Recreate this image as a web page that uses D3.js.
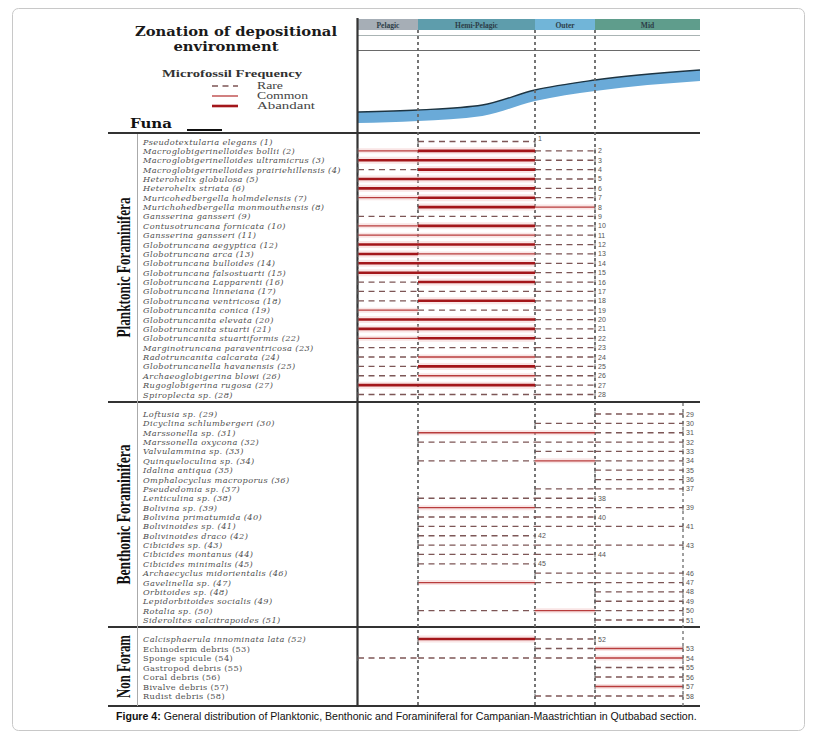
<!DOCTYPE html>
<html><head><meta charset="utf-8">
<script src="https://cdn.jsdelivr.net/npm/d3@7"></script>
<style>body{margin:0;background:#fff}svg{display:block}</style>
</head><body>
<svg id="c" width="815" height="741"></svg>
<script>
// ---------- DATA ----------
const zones = ["Pelagic", "Hemi-Pelagic", "Outer", "Mid"];
const frequencyLegend = ["Rare", "Common", "Abandant"]; // 1,2,3
const groups = ["Planktonic Foraminifera", "Benthonic Foraminifera", "Non Foram"];

const planktonicNames = [
  "Pseudotextularia elegans (1)", "Macroglobigerinelloides bollii (2)", "Macroglobigerinelloides ultramicrus (3)",
  "Macroglobigerinelloides prairiehillensis (4)", "Heterohelix globulosa (5)", "Heterohelix striata (6)",
  "Muricohedbergella holmdelensis (7)", "Murichohedbergella monmouthensis (8)", "Gansserina gansseri (9)",
  "Contusotruncana fornicata (10)", "Gansserina gansseri (11)", "Globotruncana aegyptica (12)",
  "Globotruncana arca (13)", "Globotruncana bulloides (14)", "Globotruncana falsostuarti (15)",
  "Globotruncana Lapparenti (16)", "Globotruncana linneiana (17)", "Globotruncana ventricosa (18)",
  "Globotruncanita conica (19)", "Globotruncanita elevata (20)", "Globotruncanita stuarti (21)",
  "Globotruncanita stuartiformis (22)", "Marginotruncana paraventricosa (23)", "Radotruncanita calcarata (24)",
  "Globotruncanella havanensis (25)", "Archaeoglobigerina blowi (26)", "Rugoglobigerina rugosa (27)",
  "Spiroplecta sp. (28)"
];
// frequency per zone [Pelagic, Hemi-Pelagic, Outer, Mid]: 0 none, 1 rare, 2 common, 3 abundant
const planktonicFreq = [
  [0,1,0,0],[2,3,1,0],[3,3,1,0],[1,3,1,0],[3,3,1,0],[3,3,1,0],[2,3,1,0],[0,3,2,0],[1,1,1,0],
  [2,3,1,0],[2,2,1,0],[3,3,1,0],[3,2,1,0],[3,3,1,0],[3,3,1,0],[1,3,1,0],[1,1,1,0],[1,3,1,0],
  [2,1,1,0],[3,3,1,0],[3,3,1,0],[2,3,1,0],[1,1,1,0],[1,2,1,0],[1,3,1,0],[1,2,1,0],[3,3,1,0],
  [1,1,1,0]
];

const benthonicNames = [
  "Loftusia sp. (29)", "Dicyclina schlumbergeri (30)", "Marssonella sp. (31)", "Marssonella oxycona (32)",
  "Valvulammina sp. (33)", "Quinqueloculina sp. (34)", "Idalina antiqua (35)", "Omphalocyclus macroporus (36)",
  "Pseudedomia sp. (37)", "Lenticulina sp. (38)", "Bolivina sp. (39)", "Bolivina primatumida (40)",
  "Bolivinoides sp. (41)", "Bolivinoides draco (42)", "Cibicides sp. (43)", "Cibicides montanus (44)",
  "Cibicides minimalis (45)", "Archaecyclus midorientalis (46)", "Gavelinella sp. (47)", "Orbitoides sp. (48)",
  "Lepidorbitoides socialis (49)", "Rotalia sp. (50)", "Siderolites calcitrapoides (51)"
];
const benthonicFreq = [
  [0,0,0,1],[0,0,1,1],[0,2,2,1],[0,1,1,1],[0,0,1,1],[0,1,2,1],[0,0,0,1],[0,0,0,1],
  [0,0,1,1],[0,1,1,0],[0,2,1,1],[0,1,1,0],[0,1,1,1],[0,1,0,0],[0,1,1,1],[0,1,1,0],
  [0,1,0,0],[0,0,1,1],[0,2,1,1],[0,0,0,1],[0,0,0,1],[0,1,2,1],[0,0,0,1]
];

const nonForamNames = [
  "Calcisphaerula innominata lata (52)", "Echinoderm debris (53)", "Sponge spicule (54)",
  "Gastropod debris (55)", "Coral debris (56)", "Bivalve debris (57)", "Rudist debris (58)"
];
const nonForamFreq = [
  [0,3,1,0],[0,0,1,2],[1,1,1,2],[0,0,0,1],[0,0,0,1],[0,0,0,2],[0,0,1,1]
];

// depositional depth curve (zone position, relative shallowing value)
const curveZonePos = [0, 1, 1.55, 2, 3, 4.2];
const curveValue   = [11, 13, 18, 33, 43, 53];

const captionBold = "Figure 4:";
const captionText = " General distribution of Planktonic, Benthonic and Foraminiferal for Campanian-Maastrichtian in Qutbabad section.";

// ---------- DRAW ----------
const svg = d3.select("#c");
const serif = "'Liberation Serif','Times New Roman',serif";
const dserif = "'DejaVu Serif',serif";

svg.append("rect").attr("x",12.5).attr("y",8.5).attr("width",792).attr("height",722)
  .attr("rx",6).attr("fill","none").attr("stroke","#c8c8c8");

const x = d3.scaleLinear().domain([0,1,2,3,4]).range([358,418,535,595,683]);
const RIGHT = 700;

// header zone boxes
const hdr = svg.append("g");
zones.forEach((z,i)=>{
  const colors = ["#a6aeb6","#5e9dac","#71b5d8","#5f9d8c"];
  const x1 = i===3 ? RIGHT : x(i+1);
  hdr.append("rect").attr("x",x(i)).attr("y",19).attr("width",x1-x(i)).attr("height",11).attr("fill",colors[i]);
  hdr.append("text").attr("x",(x(i)+x1)/2).attr("y",27.5).attr("text-anchor","middle")
    .attr("font-family",serif).attr("font-weight","bold").attr("font-size",7.5).attr("fill","#2d3d48").text(z);
});
hdr.append("line").attr("x1",358).attr("x2",RIGHT).attr("y1",35.5).attr("y2",35.5).attr("stroke","#aab4b4").attr("stroke-width",1.2);
hdr.append("line").attr("x1",358).attr("x2",RIGHT).attr("y1",50.5).attr("y2",50.5).attr("stroke","#6a6a6a").attr("stroke-width",1);

// depth band
const yv = d3.scaleLinear().domain([0,100]).range([123,23]);
const bandPts = curveZonePos.map((p,i)=>[p,curveValue[i]]);
const xz = p => p<=4 ? x(p) : x(4) + (p-4)*(x(4)-x(3));
const area = d3.area().x(d=>Math.min(RIGHT,xz(d[0]))).y0(d=>yv(d[1])+11).y1(d=>yv(d[1])).curve(d3.curveMonotoneX);
const line = d3.line().x(d=>Math.min(RIGHT,xz(d[0]))).y(d=>yv(d[1])).curve(d3.curveMonotoneX);
svg.append("path").attr("d",area(bandPts)).attr("fill","#6aaad8");
svg.append("path").attr("d",line(bandPts)).attr("fill","none").attr("stroke","#1d3442").attr("stroke-width",1.3);

// titles
svg.append("text").attr("x",236).attr("y",36).attr("text-anchor","middle").attr("font-family",dserif)
  .attr("font-weight","bold").attr("font-size",12.5).attr("textLength",202).attr("lengthAdjust","spacingAndGlyphs").attr("fill","#1a1a1a").text("Zonation of  depositional");
svg.append("text").attr("x",226).attr("y",50.5).attr("text-anchor","middle").attr("font-family",dserif)
  .attr("font-weight","bold").attr("font-size",12.5).attr("textLength",105).attr("lengthAdjust","spacingAndGlyphs").attr("fill","#1a1a1a").text("environment");
svg.append("text").attr("x",232).attr("y",77).attr("text-anchor","middle").attr("font-family",serif)
  .attr("font-weight","bold").attr("font-size",11).attr("textLength",140).attr("lengthAdjust","spacingAndGlyphs").attr("fill","#333").text("Microfossil Frequency");

const styleOf = f => f===1 ? {c:"#7d5656",w:1.3,d:"6,4.5"} : f===2 ? {c:"#b83c3c",w:1.3,d:null} : {c:"#a3161a",w:2.6,d:null};
const legendLen = [26, 51, 58];
frequencyLegend.forEach((t,i)=>{
  const ly = 86 + i*10, s = styleOf(i+1);
  svg.append("line").attr("x1",212).attr("x2",238).attr("y1",ly).attr("y2",ly)
    .attr("stroke",s.c).attr("stroke-width",s.w).attr("stroke-dasharray",s.d);
  svg.append("text").attr("x",257).attr("y",ly+3).attr("font-family",serif).attr("font-size",10)
    .attr("textLength",legendLen[i]).attr("lengthAdjust","spacingAndGlyphs")
    .attr("fill","#444").text(t);
});
svg.append("text").attr("x",130).attr("y",128).attr("font-family",dserif).attr("font-weight","bold")
  .attr("font-size",13).attr("textLength",42).attr("lengthAdjust","spacingAndGlyphs").attr("fill","#111").text("Funa");
svg.append("line").attr("x1",187).attr("x2",222).attr("y1",130).attr("y2",130).attr("stroke","#111").attr("stroke-width",2);

// structure lines
const body = svg.append("g");
[133,402,627,706].forEach(yy=>{
  body.append("line").attr("x1",108).attr("x2",RIGHT).attr("y1",yy).attr("y2",yy).attr("stroke","#333").attr("stroke-width",yy===133?2:1.8);
});
body.append("line").attr("x1",357.5).attr("x2",357.5).attr("y1",18).attr("y2",707).attr("stroke","#333").attr("stroke-width",2.2);
body.append("line").attr("x1",137.5).attr("x2",137.5).attr("y1",134).attr("y2",706).attr("stroke","#aaa").attr("stroke-width",1);
[1,2,3].forEach(i=>{
  body.append("line").attr("x1",x(i)).attr("x2",x(i)).attr("y1",30).attr("y2",706)
    .attr("stroke","#666").attr("stroke-width",1.8).attr("stroke-dasharray","3,3");
});
body.append("line").attr("x1",x(4)).attr("x2",x(4)).attr("y1",403).attr("y2",706)
  .attr("stroke","#777").attr("stroke-width",1.4).attr("stroke-dasharray","3,3");

// sections
const sections = [
  {name:groups[0], names:planktonicNames, freq:planktonicFreq, range:[141.5,394.5], top:133, bot:402, len:140},
  {name:groups[1], names:benthonicNames, freq:benthonicFreq, range:[414,620], top:402, bot:627, len:140},
  {name:groups[2], names:nonForamNames, freq:nonForamFreq, range:[639,696], top:627, bot:706, len:63}
];

sections.forEach((sec,si)=>{
  const y = d3.scalePoint().domain(sec.names).range(sec.range);
  const cy = (sec.top+sec.bot)/2;
  svg.append("text").attr("transform",`translate(130,${cy}) rotate(-90)`).attr("text-anchor","middle")
    .attr("font-family",serif).attr("font-weight","bold").attr("font-size",18).attr("textLength",sec.len).attr("lengthAdjust","spacingAndGlyphs")
    .attr("fill","#111").text(sec.name);
  const g = svg.append("g");
  sec.names.forEach((n,k)=>{
    const yy = y(n), f = sec.freq[k];
    const italic = !(si===2 && k>0);
    g.append("text").attr("x",143).attr("y",yy+3).attr("font-family",dserif)
      .attr("font-style",italic?"italic":"normal").attr("font-size",8.2).attr("letter-spacing",0.4)
      .attr("fill","#505050").text(n);
    const active = f.map((v,i)=>v>0?i:-1).filter(i=>i>=0);
    f.forEach((v,i)=>{
      if(v>=2) g.append("line").attr("x1",x(i)).attr("x2",x(i+1)).attr("y1",yy).attr("y2",yy)
        .attr("stroke","#f3c6c6").attr("stroke-width",v===3?7:5).attr("opacity",0.45);
    });
    f.forEach((v,i)=>{
      if(!v) return;
      const s = styleOf(v);
      g.append("line").attr("x1",x(i)).attr("x2",x(i+1)).attr("y1",yy).attr("y2",yy)
        .attr("stroke",s.c).attr("stroke-width",s.w).attr("stroke-dasharray",s.d);
    });
    const a = x(active[0]), b = x(active[active.length-1]+1);
    [a,b].forEach(xx=>g.append("line").attr("x1",xx).attr("x2",xx).attr("y1",yy-2.5).attr("y2",yy+3)
      .attr("stroke","#666").attr("stroke-width",1));
    const num = n.match(/\((\d+)\)/)[1];
    g.append("text").attr("x",b+3).attr("y",yy+(k===0&&si===0?-1:2.5)).attr("font-family","'Liberation Sans',Arial,sans-serif")
      .attr("font-size",7).attr("fill","#555").text(num);
  });
});

// caption
const cap = svg.append("text").attr("x",116).attr("y",720).attr("font-family","'Liberation Sans',Arial,sans-serif")
  .attr("font-size",10.6).attr("fill","#111");
cap.append("tspan").attr("font-weight","bold").text(captionBold);
cap.append("tspan").text(captionText);
</script>
</body></html>
